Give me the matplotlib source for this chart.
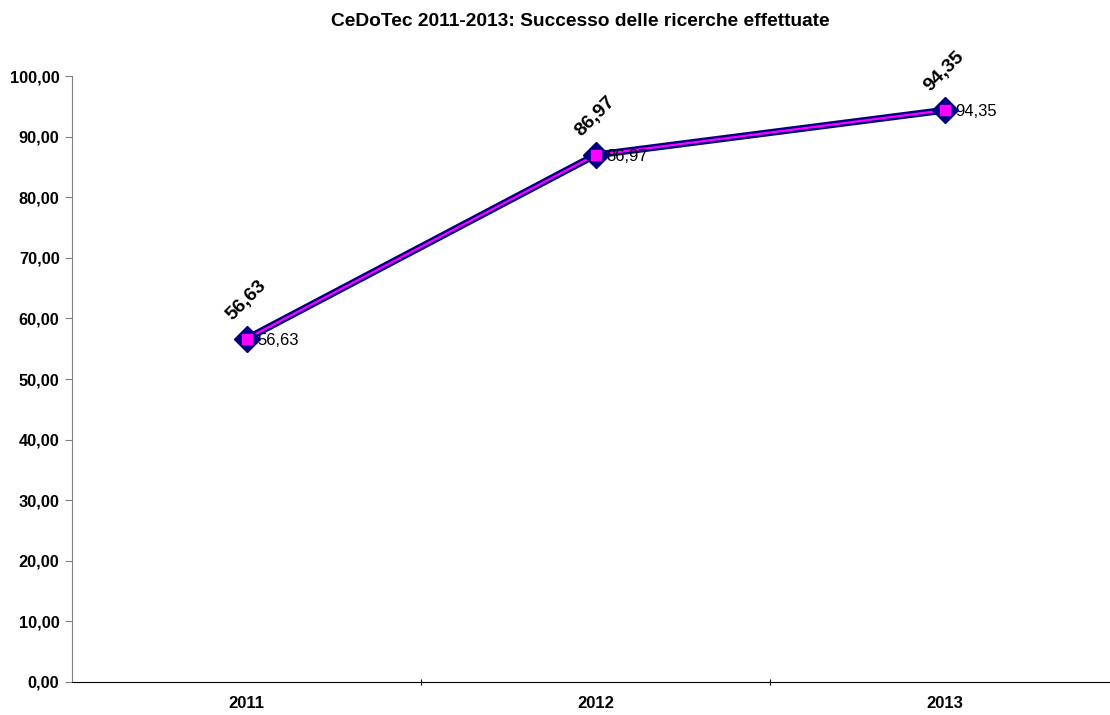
import matplotlib
matplotlib.use("Agg")
import matplotlib.pyplot as plt
from matplotlib.ticker import FuncFormatter

plt.rcParams['font.family'] = ['Liberation Sans', 'DejaVu Sans']

years = ["2011", "2012", "2013"]
values = [56.63, 86.97, 94.35]
yticks = [0, 10, 20, 30, 40, 50, 60, 70, 80, 90, 100]

def fmt(v):
    return f"{v:.2f}".replace(".", ",")

fig = plt.figure(figsize=(11.1, 7.15), dpi=100)
ax = fig.add_axes([72/1110, 33/715, 1047/1110, 606/715])

x = list(range(len(years)))
ax.plot(x, values, color='#000080', lw=5, solid_capstyle='round', zorder=2)
ax.plot(x, values, color='#FF00FF', lw=1.6, zorder=3)
ax.plot(x, values, ls='none', marker='D', ms=13, mfc='#000080', mec='#000080', zorder=4)
ax.plot(x, values, ls='none', marker='s', ms=7.5, mfc='#FF00FF', mec='#FF00FF', zorder=5)

for xi, v in zip(x, values):
    ax.annotate(fmt(v), (xi, v), xytext=(8, -1), textcoords='offset points',
                ha='left', va='center', fontsize=12)
    ax.annotate(fmt(v), (xi, v), xytext=(-8, 11), textcoords='offset points',
                ha='left', va='bottom', fontsize=14, fontweight='bold', rotation=45,
                rotation_mode='anchor')

ax.set_xlim(-0.5, 2.5)
ax.set_ylim(0, 100)
ax.set_yticks(yticks)
ax.yaxis.set_major_formatter(FuncFormatter(lambda v, p: fmt(v)))
ax.set_xticks([0.5, 1.5, 2.5])
ax.set_xticks(x, minor=True)
ax.set_xticklabels(['', '', ''])
ax.set_xticklabels(years, minor=True)
ax.tick_params(axis='x', which='minor', length=0, pad=10, labelsize=12)
ax.tick_params(axis='x', which='major', length=5, direction='inout', color='#000000')
ax.tick_params(axis='y', length=5, direction='out', labelsize=11.8, color='#808080', pad=4)
for lab in ax.get_yticklabels() + ax.get_xticklabels(minor=True):
    lab.set_fontweight('bold')

ax.spines['top'].set_visible(False)
ax.spines['right'].set_visible(False)
ax.spines['left'].set_color('#808080')
ax.spines['bottom'].set_color('#000000')

fig.text(580/1110, 1 - 22/715, "CeDoTec 2011-2013: Successo delle ricerche effettuate",
         ha='center', va='center', fontsize=13.8, fontweight='bold')

fig.savefig("out.png", dpi=100)
